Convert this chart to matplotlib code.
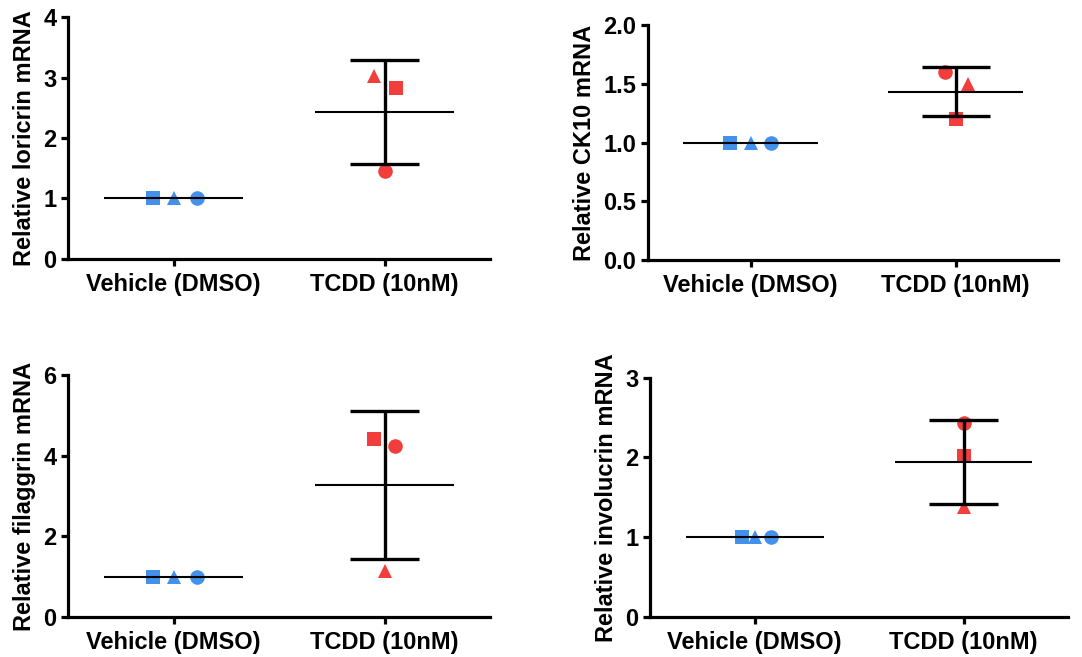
import matplotlib
matplotlib.use("Agg")
import matplotlib.pyplot as plt
import numpy as np

plt.rcParams['font.family'] = ['Liberation Sans', 'DejaVu Sans']
plt.rcParams['font.weight'] = 'bold'

groups = ["Vehicle (DMSO)", "TCDD (10nM)"]
shapes = ['s', '^', 'o']   # replicate 1, 2, 3

# values per replicate (square, triangle, circle)
loricrin_vehicle = [1.0, 1.0, 1.0]
loricrin_tcdd = [2.83, 3.02, 1.45]
ck10_vehicle = [1.0, 1.0, 1.0]
ck10_tcdd = [1.20, 1.50, 1.60]
filaggrin_vehicle = [1.0, 1.0, 1.0]
filaggrin_tcdd = [4.42, 1.15, 4.25]
involucrin_vehicle = [1.0, 1.0, 1.0]
involucrin_tcdd = [2.02, 1.38, 2.43]

blue = '#4391EA'
red = '#F23D3D'

panels = [
    # (axes rect, ylabel, vehicle, tcdd, ymax, ystep, fmt, vehicle offsets, tcdd offsets)
    ([0.063, 0.606, 0.390, 0.368], "Relative loricrin mRNA", loricrin_vehicle, loricrin_tcdd,
     4, 1, "{:.0f}", [-0.10, 0.0, 0.11], [0.055, -0.05, 0.0]),
    ([0.599, 0.604, 0.379, 0.358], "Relative CK10 mRNA", ck10_vehicle, ck10_tcdd,
     2.0, 0.5, "{:.1f}", [-0.10, 0.0, 0.10], [0.0, 0.06, -0.05]),
    ([0.063, 0.061, 0.390, 0.368], "Relative filaggrin mRNA", filaggrin_vehicle, filaggrin_tcdd,
     6, 2, "{:.0f}", [-0.10, 0.0, 0.11], [-0.05, 0.0, 0.05]),
    ([0.601, 0.061, 0.386, 0.364], "Relative involucrin mRNA", involucrin_vehicle, involucrin_tcdd,
     3, 1, "{:.0f}", [-0.06, 0.0, 0.08], [0.0, 0.0, 0.0]),
]

fig = plt.figure(figsize=(10.82, 6.57), dpi=100)

for rect, ylabel, veh, tcdd, ymax, ystep, fmt, off_v, off_t in panels:
    ax = fig.add_axes(rect)
    for gi, (vals, offs, col) in enumerate([(veh, off_v, blue), (tcdd, off_t, red)]):
        for v, o, m in zip(vals, offs, shapes):
            ax.plot(gi + o, v, marker=m, color=col, markersize=10.5, markeredgewidth=0,
                    linestyle='none', zorder=2, clip_on=False)
        mean = np.mean(vals)
        sd = np.std(vals, ddof=1)
        ax.hlines(mean, gi - 0.33, gi + 0.33, color='black', linewidth=1.5, zorder=3)
        if sd > 0:
            ax.vlines(gi, mean - sd, mean + sd, color='black', linewidth=2.4, zorder=3)
            ax.hlines([mean - sd, mean + sd], gi - 0.165, gi + 0.165, color='black',
                      linewidth=2.4, zorder=3)

    ax.set_xlim(-0.5, 1.5)
    ax.set_ylim(0, ymax)
    ticks = np.arange(0, ymax + ystep / 2, ystep)
    ax.set_yticks(ticks)
    ax.set_yticklabels([fmt.format(t) for t in ticks])
    ax.set_xticks([0, 1])
    ax.set_xticklabels(groups)
    ax.set_ylabel(ylabel, fontsize=17, fontweight='bold', labelpad=5)
    for s in ['top', 'right']:
        ax.spines[s].set_visible(False)
    for s in ['left', 'bottom']:
        ax.spines[s].set_linewidth(2.3)
    ax.tick_params(axis='both', width=2.3, length=5, direction='out', labelsize=17)
    ax.tick_params(axis='x', pad=5)

fig.savefig("out.png", dpi=100)
